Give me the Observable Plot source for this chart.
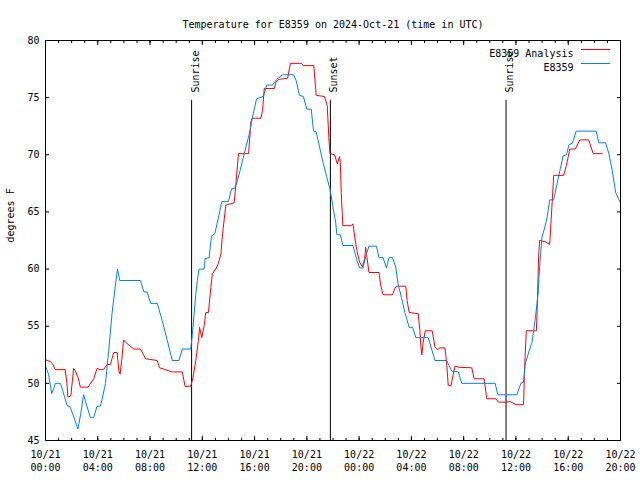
<!DOCTYPE html>
<html><head><meta charset="utf-8">
<script src="https://cdn.jsdelivr.net/npm/d3@7"></script>
<script src="https://cdn.jsdelivr.net/npm/@observablehq/plot@0.6"></script>
<style>body{margin:0;background:#fff} svg{display:block}</style>
</head><body><div id="chart"></div>
<script>
const titleText = "Temperature for E8359 on 2024-Oct-21 (time in UTC)";
const yLabel = "degrees F";
const startUTC = Date.UTC(2024, 9, 21, 0, 0);

// E8359 observations (hours since 10/21 00:00 UTC, deg F)
const obsHours = [0,0.23,0.48,0.61,0.75,1.13,1.31,1.64,1.90,2.48,
  2.69,2.92,3.07,3.43,3.69,3.94,4.20,4.35,4.59,4.84,
  5.09,5.35,5.51,5.68,7.27,7.53,7.78,8.04,8.55,8.93,
  9.32,9.70,10.21,10.47,11.11,11.24,11.50,11.62,11.75,12.14,
  12.21,12.52,12.70,12.96,13.29,13.49,14.00,14.23,14.52,14.82,
  15.21,15.59,15.84,16.15,16.67,16.92,17.38,17.69,18.15,18.99,
  19.18,19.43,19.74,19.99,20.33,20.51,20.71,20.97,21.22,21.51,
  21.77,21.99,22.20,22.30,22.56,22.76,23.53,23.66,23.83,24.04,
  24.29,24.55,24.75,25.32,25.52,25.83,26.09,26.29,26.55,26.80,
  26.98,27.24,27.50,27.83,28.09,28.34,29.29,29.80,30.70,31.08,
  31.59,31.85,34.41,34.61,36.07,36.38,36.58,36.71,36.89,37.23,
  37.48,37.69,37.81,37.99,38.17,38.38,38.58,38.89,39.09,39.40,
  39.61,39.86,40.07,40.32,40.61,42.14,42.34,42.86,43.11,43.37,
  43.63,43.88,44.0];
const obsTemps = [51.5,50.8,49.1,49.5,50.0,50.0,49.4,48.1,47.9,46.0,
  47.3,49.0,48.4,47.0,47.0,48.0,48.0,48.7,50.0,52.9,
  56.1,58.6,60.0,59.0,59.0,58.0,58.0,57.0,57.0,55.5,
  53.75,52.0,52.0,53.0,53.0,54.3,57.8,59.0,60.0,60.0,
  60.9,61.0,62.9,63.1,64.8,65.9,65.9,67.0,67.1,68.3,
  70.1,71.8,73.3,74.9,75.1,76.1,76.1,76.6,77.0,77.0,
  76.5,75.2,75.1,74.0,74.0,72.1,72.0,70.7,69.4,68.1,
  67.0,65.5,64.1,63.0,63.0,62.06,62.06,61.5,60.75,60.1,
  60.1,61.3,62.0,62.0,61.0,61.0,60.1,61.0,61.0,60.2,
  58.7,57.5,56.2,54.9,54.9,54.0,54.0,52.0,52.0,51.07,
  51.0,50.0,50.0,49.0,49.0,50.0,50.1,51.7,52.4,53.6,
  55.65,57.8,60.2,62.8,63.5,64.5,66.06,66.06,67.17,68.8,
  69.9,70.0,70.9,71.0,72.07,72.07,71.05,71.05,70.1,68.6,
  66.7,66.06,65.8];

// E8359 Analysis
const anaHours = [0,0.38,0.54,0.75,1.51,1.64,1.71,1.94,2.15,2.28,
  2.48,2.67,3.25,3.69,3.94,4.20,4.45,4.71,4.97,5.22,
  5.48,5.61,5.71,5.86,5.97,6.12,6.76,7.27,7.66,8.55,
  8.73,9.70,10.47,10.68,11.11,11.29,11.50,11.70,11.79,11.96,
  12.14,12.27,12.47,12.65,12.77,13.03,13.23,13.42,13.55,13.80,
  14.44,14.57,14.77,15.54,15.72,15.80,16.49,16.61,16.74,17.51,
  17.64,17.84,18.53,18.74,19.56,19.74,20.53,20.71,21.35,21.56,
  21.68,21.77,22.12,22.33,22.50,22.56,22.63,22.71,22.76,23.40,
  23.53,23.66,23.83,24.04,24.25,24.42,24.50,24.60,24.75,25.52,
  25.65,25.83,26.55,26.73,26.86,27.57,27.67,27.83,28.52,28.65,
  28.73,28.80,28.90,29.06,29.59,29.80,29.98,30.18,30.57,30.70,
  30.82,31.03,31.20,31.34,31.72,32.62,32.80,33.56,33.77,34.46,
  34.66,35.30,35.56,36.02,36.58,36.66,36.79,37.56,37.61,37.73,
  37.81,38.25,38.58,38.69,38.89,39.65,39.86,40.12,40.55,40.88,
  41.57,41.91,42.60];
const anaTemps = [52.06,51.9,51.7,51.2,51.2,50.0,48.8,48.9,51.3,51.1,
  50.55,49.67,49.67,50.4,51.3,51.2,51.2,51.65,51.65,52.7,
  52.7,51.1,50.8,52.3,53.8,53.6,53.0,53.0,52.15,52.0,
  51.36,51.0,51.0,49.73,49.75,50.5,52.0,53.75,54.9,54.0,
  55.06,56.2,56.2,58.4,59.6,60.0,60.5,61.3,63.1,65.6,
  65.8,67.5,70.1,70.1,72.85,73.2,73.2,73.9,75.8,75.8,
  76.35,76.6,76.7,78.0,78.0,77.8,77.8,75.2,75.1,74.3,
  71.5,70.1,70.0,69.2,69.85,69.3,66.7,64.8,63.8,63.8,
  63.96,62.8,61.6,60.6,60.2,60.9,61.9,61.0,59.7,59.7,
  58.6,57.75,57.75,58.3,58.5,58.5,57.25,56.2,56.1,54.6,
  53.2,52.5,53.6,54.6,54.6,53.2,52.95,53.1,53.1,51.7,
  49.8,49.8,50.8,51.5,51.4,51.36,50.4,50.4,48.65,48.65,
  48.36,48.36,48.4,48.13,48.13,51.3,54.6,54.6,55.9,61.05,
  62.5,62.4,62.15,64.25,68.2,68.2,69.06,70.5,70.5,71.3,
  71.3,70.1,70.1];

const sunHours = [11.18, 21.80, 35.24];
const sunLabels = ["Sunrise", "Sunset", "Sunrise"];

const xMajorHours = [0,4,8,12,16,20,24,28,32,36,40,44];
const xMinorHours = [0,1,2,3,4,5,6,7,8,9,10,11,12,13,14,15,16,17,18,19,20,21,22,
  23,24,25,26,27,28,29,30,31,32,33,34,35,36,37,38,39,40,41,42,43,44];
const yTickValues = [45,50,55,60,65,70,75,80];

const seriesNames = ["E8359 Analysis", "E8359"];
const seriesColors = ["#ff0000", "#0080ff"];

const toDate = h => new Date(startUTC + h * 3600000);
const obs = obsHours.map((h, i) => ({t: toDate(h), v: obsTemps[i]}));
const ana = anaHours.map((h, i) => ({t: toDate(h), v: anaTemps[i]}));
const sun = sunHours.map((h, i) => ({t: toDate(h), label: sunLabels[i]}));
const fmtDate = d3.utcFormat("%m/%d"), fmtTime = d3.utcFormat("%H:%M");
const blank = () => "";

// legend line samples (placed relative to the frame's top-right corner)
function legendSamples(index, scales, values, dimensions) {
  const {width, marginRight, marginTop} = dimensions;
  const right = width - marginRight;
  const g = d3.create("svg:g").attr("fill", "none");
  seriesNames.forEach((name, i) => {
    const y = marginTop + 9 + i * 14 + 0.5;
    g.append("line")
      .attr("x1", right - 39).attr("x2", right - 10)
      .attr("y1", y).attr("y2", y)
      .attr("stroke-width", 1)
      .attr("stroke", seriesColors[i]);
  });
  return g.node();
}

const chart = Plot.plot({
  width: 640, height: 480,
  marginLeft: 45, marginRight: 20, marginTop: 40, marginBottom: 40,
  style: {fontFamily: "'DejaVu Sans Mono', monospace", fontSize: "10px", background: "#fff", color: "#000"},
  x: {type: "utc", domain: [toDate(0), toDate(44)], label: null},
  y: {domain: [45, 80], label: null},
  marks: [
    Plot.axisX({anchor: "bottom", ticks: xMajorHours.map(toDate), tickSize: 0, tickPadding: 8, lineHeight: 1.3,
      tickFormat: d => fmtDate(d) + "\n" + fmtTime(d), label: null}),
    Plot.axisX({anchor: "bottom", ticks: xMajorHours.map(toDate), tickSize: -4, tickFormat: blank, label: null}),
    Plot.axisX({anchor: "bottom", ticks: xMinorHours.map(toDate), tickSize: -2, tickFormat: blank, label: null}),
    Plot.axisX({anchor: "top", ticks: xMajorHours.map(toDate), tickSize: -4, tickFormat: blank, label: null}),
    Plot.axisX({anchor: "top", ticks: xMinorHours.map(toDate), tickSize: -2, tickFormat: blank, label: null}),
    Plot.axisY({anchor: "left", ticks: yTickValues, tickSize: 0, tickPadding: 6, label: null}),
    Plot.axisY({anchor: "left", ticks: yTickValues, tickSize: -4, tickFormat: blank, label: null}),
    Plot.axisY({anchor: "right", ticks: yTickValues, tickSize: -4, tickFormat: blank, label: null}),
    Plot.ruleX(sun, {x: "t", insetTop: 60, stroke: "#000", strokeWidth: 1}),
    Plot.text(sun, {x: "t", text: "label", frameAnchor: "top", rotate: -90, textAnchor: "start", dy: 52}),
    Plot.line(ana, {x: "t", y: "v", stroke: seriesColors[0], strokeWidth: 1}),
    Plot.line(obs, {x: "t", y: "v", stroke: seriesColors[1], strokeWidth: 1}),
    Plot.frame({stroke: "#000", strokeWidth: 1}),
    Plot.text([seriesNames[0]], {frameAnchor: "top-right", dx: -47, dy: 9, textAnchor: "end"}),
    Plot.text([seriesNames[1]], {frameAnchor: "top-right", dx: -47, dy: 23, textAnchor: "end"}),
    legendSamples,
    Plot.text([titleText], {frameAnchor: "top", dy: -20}),
    Plot.text([yLabel], {frameAnchor: "left", rotate: -90, dx: -35, dy: 2})
  ]
});
document.getElementById("chart").append(chart);
</script>
</body></html>
